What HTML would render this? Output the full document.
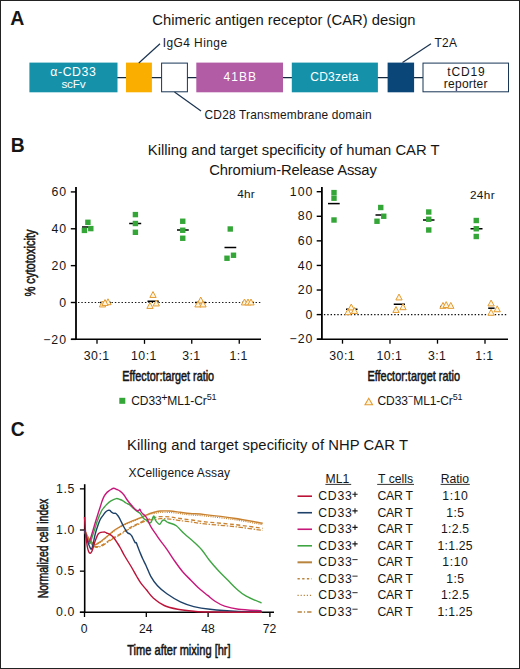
<!DOCTYPE html>
<html><head><meta charset="utf-8"><style>
html,body{margin:0;padding:0;background:#fff;}
body{width:520px;height:669px;overflow:hidden;}
svg{display:block;}
text{font-family:"Liberation Sans", sans-serif;}
</style></head><body>
<svg width="520" height="669" viewBox="0 0 520 669" font-family='"Liberation Sans", sans-serif'>
<rect x="0" y="0" width="520" height="669" fill="#fff"/>
<text x="10.31" y="24.60" font-size="19.5" font-weight="bold" fill="#161616">A</text>
<text transform="translate(152.26,24.90) scale(1,1.05)" font-size="14.8" letter-spacing="0.033" fill="#161616">Chimeric antigen receptor (CAR) design</text>
<line x1="117" y1="77.6" x2="423" y2="77.6" stroke="#14283e" stroke-width="1.4"/>
<rect x="29.4" y="62.6" width="88.1" height="29.7" fill="#1592aa"/>
<rect x="126" y="62.6" width="25.9" height="29.7" fill="#f9ae00"/>
<rect x="161.6" y="63.1" width="25.8" height="28.7" fill="#fff" stroke="#183656" stroke-width="1"/>
<rect x="196.3" y="62.6" width="86.7" height="29.7" fill="#b15ca5"/>
<rect x="291.8" y="62.6" width="86.1" height="29.7" fill="#1592aa"/>
<rect x="387.6" y="62.6" width="26.5" height="29.7" fill="#0a4677"/>
<rect x="423" y="63.1" width="85.5" height="28.7" fill="#fff" stroke="#183656" stroke-width="1"/>
<text x="50.31" y="76.20" font-size="12.3" letter-spacing="0.573" fill="#fff">&#945;-CD33</text>
<text x="61.41" y="87.60" font-size="11.8" letter-spacing="-0.201" fill="#fff">scFv</text>
<text x="223.46" y="80.60" font-size="12.0" letter-spacing="1.067" fill="#fff">41BB</text>
<text x="310.20" y="81.10" font-size="12.0" letter-spacing="0.277" fill="#fff">CD3zeta</text>
<text x="447.32" y="76.00" font-size="12.0" letter-spacing="0.850" fill="#161616">tCD19</text>
<text x="443.82" y="88.10" font-size="12.0" letter-spacing="0.243" fill="#161616">reporter</text>
<line x1="138.8" y1="63" x2="160" y2="43.7" stroke="#1a3350" stroke-width="1.2"/>
<line x1="174.5" y1="92" x2="201" y2="111" stroke="#1a3350" stroke-width="1.2"/>
<line x1="402.5" y1="62.5" x2="431" y2="43.7" stroke="#1a3350" stroke-width="1.2"/>
<text x="162.73" y="47.00" font-size="11.9" letter-spacing="0.459" fill="#161616">IgG4 Hinge</text>
<text x="204.60" y="118.80" font-size="11.9" letter-spacing="0.189" fill="#161616">CD28 Transmembrane domain</text>
<text x="434.56" y="46.80" font-size="11.9" letter-spacing="0.280" fill="#161616">T2A</text>
<text x="10.75" y="151.90" font-size="19.3" font-weight="bold" fill="#161616">B</text>
<text transform="translate(147.82,155.30) scale(1,1.05)" font-size="14.8" letter-spacing="-0.014" fill="#161616">Killing and target specificity of human CAR T</text>
<text transform="translate(209.26,175.30) scale(1,1.05)" font-size="14.8" letter-spacing="-0.159" fill="#161616">Chromium-Release Assay</text>
<line x1="76.0" y1="187.12" x2="76.0" y2="340.06" stroke="#000" stroke-width="1.8"/>
<line x1="71.2" y1="339.36" x2="261" y2="339.36" stroke="#000" stroke-width="1.5"/>
<line x1="70.8" y1="191.92000000000002" x2="76.0" y2="191.92000000000002" stroke="#000" stroke-width="1.4"/>
<text x="51.38" y="196.12" font-size="12.3" letter-spacing="1.000" fill="#161616">60</text>
<line x1="70.8" y1="228.78" x2="76.0" y2="228.78" stroke="#000" stroke-width="1.4"/>
<text x="51.38" y="232.98" font-size="12.3" letter-spacing="1.000" fill="#161616">40</text>
<line x1="70.8" y1="265.64" x2="76.0" y2="265.64" stroke="#000" stroke-width="1.4"/>
<text x="51.38" y="269.84" font-size="12.3" letter-spacing="1.000" fill="#161616">20</text>
<line x1="70.8" y1="302.5" x2="76.0" y2="302.5" stroke="#000" stroke-width="1.4"/>
<text x="59.20" y="306.70" font-size="12.3" fill="#161616">0</text>
<line x1="70.8" y1="339.36" x2="76.0" y2="339.36" stroke="#000" stroke-width="1.4"/>
<text x="43.18" y="343.56" font-size="12.3" letter-spacing="1.000" fill="#161616">&#8722;20</text>
<line x1="97" y1="339.36" x2="97" y2="343.86" stroke="#000" stroke-width="1.3"/>
<text x="83.82" y="360.36" font-size="12.3" letter-spacing="0.450" fill="#161616">30:1</text>
<line x1="144.5" y1="339.36" x2="144.5" y2="343.86" stroke="#000" stroke-width="1.3"/>
<text x="131.08" y="360.36" font-size="12.3" letter-spacing="0.450" fill="#161616">10:1</text>
<line x1="191.75" y1="339.36" x2="191.75" y2="343.86" stroke="#000" stroke-width="1.3"/>
<text x="182.21" y="360.36" font-size="12.3" letter-spacing="0.450" fill="#161616">3:1</text>
<line x1="239.25" y1="339.36" x2="239.25" y2="343.86" stroke="#000" stroke-width="1.3"/>
<text x="229.47" y="360.36" font-size="12.3" letter-spacing="0.450" fill="#161616">1:1</text>
<line x1="78.0" y1="302.5" x2="261" y2="302.5" stroke="#111" stroke-width="1.1" stroke-dasharray="1.4 1.95"/>
<line x1="321.9" y1="186.9" x2="321.9" y2="339.88" stroke="#000" stroke-width="1.8"/>
<line x1="317.09999999999997" y1="339.18" x2="508" y2="339.18" stroke="#000" stroke-width="1.5"/>
<line x1="316.7" y1="191.70000000000002" x2="321.9" y2="191.70000000000002" stroke="#000" stroke-width="1.4"/>
<text x="289.85" y="195.90" font-size="12.3" letter-spacing="1.000" fill="#161616">100</text>
<line x1="316.7" y1="216.28000000000003" x2="321.9" y2="216.28000000000003" stroke="#000" stroke-width="1.4"/>
<text x="297.68" y="220.48" font-size="12.3" letter-spacing="1.000" fill="#161616">80</text>
<line x1="316.7" y1="240.86" x2="321.9" y2="240.86" stroke="#000" stroke-width="1.4"/>
<text x="297.68" y="245.06" font-size="12.3" letter-spacing="1.000" fill="#161616">60</text>
<line x1="316.7" y1="265.44" x2="321.9" y2="265.44" stroke="#000" stroke-width="1.4"/>
<text x="297.68" y="269.64" font-size="12.3" letter-spacing="1.000" fill="#161616">40</text>
<line x1="316.7" y1="290.02000000000004" x2="321.9" y2="290.02000000000004" stroke="#000" stroke-width="1.4"/>
<text x="297.68" y="294.22" font-size="12.3" letter-spacing="1.000" fill="#161616">20</text>
<line x1="316.7" y1="314.6" x2="321.9" y2="314.6" stroke="#000" stroke-width="1.4"/>
<text x="305.50" y="318.80" font-size="12.3" fill="#161616">0</text>
<line x1="316.7" y1="339.18" x2="321.9" y2="339.18" stroke="#000" stroke-width="1.4"/>
<text x="289.48" y="343.38" font-size="12.3" letter-spacing="1.000" fill="#161616">&#8722;20</text>
<line x1="342.5" y1="339.18" x2="342.5" y2="343.68" stroke="#000" stroke-width="1.3"/>
<text x="329.32" y="360.18" font-size="12.3" letter-spacing="0.450" fill="#161616">30:1</text>
<line x1="390" y1="339.18" x2="390" y2="343.68" stroke="#000" stroke-width="1.3"/>
<text x="376.58" y="360.18" font-size="12.3" letter-spacing="0.450" fill="#161616">10:1</text>
<line x1="437.5" y1="339.18" x2="437.5" y2="343.68" stroke="#000" stroke-width="1.3"/>
<text x="427.96" y="360.18" font-size="12.3" letter-spacing="0.450" fill="#161616">3:1</text>
<line x1="485" y1="339.18" x2="485" y2="343.68" stroke="#000" stroke-width="1.3"/>
<text x="475.22" y="360.18" font-size="12.3" letter-spacing="0.450" fill="#161616">1:1</text>
<line x1="323.9" y1="314.6" x2="508" y2="314.6" stroke="#111" stroke-width="1.1" stroke-dasharray="1.4 1.95"/>
<text x="237.26" y="198.30" font-size="11.8" letter-spacing="0.181" fill="#161616">4hr</text>
<text x="469.91" y="198.60" font-size="11.8" letter-spacing="0.369" fill="#161616">24hr</text>
<line x1="82" y1="227" x2="93" y2="227" stroke="#000" stroke-width="1.5"/>
<line x1="129.2" y1="223.5" x2="141.2" y2="223.5" stroke="#000" stroke-width="1.5"/>
<line x1="177" y1="230" x2="188.75" y2="230" stroke="#000" stroke-width="1.5"/>
<line x1="224.5" y1="247.5" x2="236.25" y2="247.5" stroke="#000" stroke-width="1.5"/>
<line x1="100" y1="302.5" x2="111" y2="302.5" stroke="#000" stroke-width="1.5"/>
<line x1="147.5" y1="301.25" x2="158.75" y2="301.25" stroke="#000" stroke-width="1.5"/>
<line x1="195" y1="302.5" x2="206" y2="302.5" stroke="#000" stroke-width="1.5"/>
<line x1="242" y1="302.5" x2="254" y2="302.5" stroke="#000" stroke-width="1.5"/>
<line x1="328" y1="203.6" x2="339.7" y2="203.6" stroke="#000" stroke-width="1.5"/>
<line x1="375.5" y1="215" x2="386" y2="215" stroke="#000" stroke-width="1.5"/>
<line x1="423" y1="220" x2="434.5" y2="220" stroke="#000" stroke-width="1.5"/>
<line x1="470.5" y1="228.75" x2="482.5" y2="228.75" stroke="#000" stroke-width="1.5"/>
<line x1="346" y1="309.25" x2="357.5" y2="309.25" stroke="#000" stroke-width="1.5"/>
<line x1="393.75" y1="304.25" x2="405" y2="304.25" stroke="#000" stroke-width="1.5"/>
<line x1="440" y1="306.6" x2="453" y2="306.6" stroke="#000" stroke-width="1.5"/>
<line x1="488.2" y1="308.2" x2="494.6" y2="308.2" stroke="#000" stroke-width="1.5"/>
<rect x="81.70" y="227.70" width="5.4" height="5.4" fill="#33a637"/>
<rect x="85.20" y="219.60" width="5.4" height="5.4" fill="#33a637"/>
<rect x="88.10" y="225.90" width="5.4" height="5.4" fill="#33a637"/>
<rect x="132.70" y="211.90" width="5.4" height="5.4" fill="#33a637"/>
<rect x="132.70" y="220.80" width="5.4" height="5.4" fill="#33a637"/>
<rect x="132.70" y="229.60" width="5.4" height="5.4" fill="#33a637"/>
<rect x="180.05" y="218.55" width="5.4" height="5.4" fill="#33a637"/>
<rect x="180.05" y="227.55" width="5.4" height="5.4" fill="#33a637"/>
<rect x="180.05" y="235.55" width="5.4" height="5.4" fill="#33a637"/>
<rect x="227.55" y="226.30" width="5.4" height="5.4" fill="#33a637"/>
<rect x="224.30" y="255.55" width="5.4" height="5.4" fill="#33a637"/>
<rect x="230.80" y="252.55" width="5.4" height="5.4" fill="#33a637"/>
<path d="M102.50,301.05 L105.65,306.95 L99.35,306.95 Z" fill="#fff6df" stroke="#e49b30" stroke-width="1" stroke-linejoin="miter"/>
<path d="M108.00,298.80 L111.15,304.70 L104.85,304.70 Z" fill="#fff6df" stroke="#e49b30" stroke-width="1" stroke-linejoin="miter"/>
<path d="M105.00,299.55 L108.15,305.45 L101.85,305.45 Z" fill="#fff6df" stroke="#e49b30" stroke-width="1" stroke-linejoin="miter"/>
<path d="M153.00,291.55 L156.15,297.45 L149.85,297.45 Z" fill="#fff6df" stroke="#e49b30" stroke-width="1" stroke-linejoin="miter"/>
<path d="M150.00,302.55 L153.15,308.45 L146.85,308.45 Z" fill="#fff6df" stroke="#e49b30" stroke-width="1" stroke-linejoin="miter"/>
<path d="M156.25,300.05 L159.40,305.95 L153.10,305.95 Z" fill="#fff6df" stroke="#e49b30" stroke-width="1" stroke-linejoin="miter"/>
<path d="M200.75,297.05 L203.90,302.95 L197.60,302.95 Z" fill="#fff6df" stroke="#e49b30" stroke-width="1" stroke-linejoin="miter"/>
<path d="M198.00,301.05 L201.15,306.95 L194.85,306.95 Z" fill="#fff6df" stroke="#e49b30" stroke-width="1" stroke-linejoin="miter"/>
<path d="M203.00,301.05 L206.15,306.95 L199.85,306.95 Z" fill="#fff6df" stroke="#e49b30" stroke-width="1" stroke-linejoin="miter"/>
<path d="M244.50,299.05 L247.65,304.95 L241.35,304.95 Z" fill="#fff6df" stroke="#e49b30" stroke-width="1" stroke-linejoin="miter"/>
<path d="M248.00,299.05 L251.15,304.95 L244.85,304.95 Z" fill="#fff6df" stroke="#e49b30" stroke-width="1" stroke-linejoin="miter"/>
<path d="M251.00,299.05 L254.15,304.95 L247.85,304.95 Z" fill="#fff6df" stroke="#e49b30" stroke-width="1" stroke-linejoin="miter"/>
<rect x="331.30" y="189.90" width="5.4" height="5.4" fill="#33a637"/>
<rect x="331.30" y="195.50" width="5.4" height="5.4" fill="#33a637"/>
<rect x="331.30" y="217.30" width="5.4" height="5.4" fill="#33a637"/>
<rect x="378.05" y="204.80" width="5.4" height="5.4" fill="#33a637"/>
<rect x="381.05" y="213.55" width="5.4" height="5.4" fill="#33a637"/>
<rect x="374.30" y="218.55" width="5.4" height="5.4" fill="#33a637"/>
<rect x="426.05" y="209.30" width="5.4" height="5.4" fill="#33a637"/>
<rect x="426.05" y="216.55" width="5.4" height="5.4" fill="#33a637"/>
<rect x="426.05" y="227.30" width="5.4" height="5.4" fill="#33a637"/>
<rect x="473.55" y="217.80" width="5.4" height="5.4" fill="#33a637"/>
<rect x="473.55" y="226.05" width="5.4" height="5.4" fill="#33a637"/>
<rect x="473.55" y="233.80" width="5.4" height="5.4" fill="#33a637"/>
<path d="M348.00,308.80 L351.15,314.70 L344.85,314.70 Z" fill="#fff6df" stroke="#e49b30" stroke-width="1" stroke-linejoin="miter"/>
<path d="M351.25,304.05 L354.40,309.95 L348.10,309.95 Z" fill="#fff6df" stroke="#e49b30" stroke-width="1" stroke-linejoin="miter"/>
<path d="M354.50,307.55 L357.65,313.45 L351.35,313.45 Z" fill="#fff6df" stroke="#e49b30" stroke-width="1" stroke-linejoin="miter"/>
<path d="M396.00,306.55 L399.15,312.45 L392.85,312.45 Z" fill="#fff6df" stroke="#e49b30" stroke-width="1" stroke-linejoin="miter"/>
<path d="M399.00,294.05 L402.15,299.95 L395.85,299.95 Z" fill="#fff6df" stroke="#e49b30" stroke-width="1" stroke-linejoin="miter"/>
<path d="M403.00,303.80 L406.15,309.70 L399.85,309.70 Z" fill="#fff6df" stroke="#e49b30" stroke-width="1" stroke-linejoin="miter"/>
<path d="M443.00,302.45 L446.15,308.35 L439.85,308.35 Z" fill="#fff6df" stroke="#e49b30" stroke-width="1" stroke-linejoin="miter"/>
<path d="M446.20,301.65 L449.35,307.55 L443.05,307.55 Z" fill="#fff6df" stroke="#e49b30" stroke-width="1" stroke-linejoin="miter"/>
<path d="M450.80,302.45 L453.95,308.35 L447.65,308.35 Z" fill="#fff6df" stroke="#e49b30" stroke-width="1" stroke-linejoin="miter"/>
<path d="M491.10,300.05 L494.25,305.95 L487.95,305.95 Z" fill="#fff6df" stroke="#e49b30" stroke-width="1" stroke-linejoin="miter"/>
<path d="M491.10,309.35 L494.25,315.25 L487.95,315.25 Z" fill="#fff6df" stroke="#e49b30" stroke-width="1" stroke-linejoin="miter"/>
<path d="M497.20,305.85 L500.35,311.75 L494.05,311.75 Z" fill="#fff6df" stroke="#e49b30" stroke-width="1" stroke-linejoin="miter"/>
<text transform="translate(122.33,381.10) scale(0.7570,1)" font-size="14.3" fill="#161616" stroke="#161616" stroke-width="0.55">Effector:target ratio</text>
<text transform="translate(367.43,381.30) scale(0.7633,1)" font-size="14.3" fill="#161616" stroke="#161616" stroke-width="0.55">Effector:target ratio</text>
<text transform="translate(34.60,296.59) rotate(-90) scale(0.7771,1)" font-size="14.3" fill="#161616" stroke="#161616" stroke-width="0.55">% cytotoxicity</text>
<rect x="119.30" y="397.80" width="6" height="6" fill="#33a637"/>
<text x="131.3" y="405" font-size="12" fill="#161616" letter-spacing="-0.1">CD33<tspan font-size="11" dx="-0.3" dy="-4.4">+</tspan><tspan dx="-0.3" dy="4.4">ML1-Cr</tspan><tspan font-size="9" dy="-5.2">51</tspan></text>
<path d="M368.75,398.30 L372.50,404.70 L365.00,404.70 Z" fill="#fff6df" stroke="#e49b30" stroke-width="1.1" stroke-linejoin="miter"/>
<text x="377.5" y="405" font-size="12" fill="#161616" letter-spacing="-0.1">CD33<tspan font-size="9.5" dy="-4.6">&#8722;</tspan><tspan dy="4.6">ML1-Cr</tspan><tspan font-size="9" dy="-5.2">51</tspan></text>
<text x="10.73" y="435.70" font-size="19.3" font-weight="bold" fill="#161616">C</text>
<text transform="translate(127.07,449.60) scale(1,1.05)" font-size="14.8" letter-spacing="0.069" fill="#161616">Killing and target specificity of NHP CAR T</text>
<text x="128.51" y="476.80" font-size="12.0" letter-spacing="0.129" fill="#161616">XCelligence Assay</text>
<line x1="84.7" y1="484.2" x2="84.7" y2="613" stroke="#000" stroke-width="1.6"/>
<line x1="79.9" y1="612.3" x2="274" y2="612.3" stroke="#000" stroke-width="1.5"/>
<line x1="79.9" y1="488.84999999999997" x2="84.7" y2="488.84999999999997" stroke="#000" stroke-width="1.3"/>
<text x="56.10" y="492.75" font-size="12.3" letter-spacing="0.600" fill="#161616">1.5</text>
<line x1="79.9" y1="530.0" x2="84.7" y2="530.0" stroke="#000" stroke-width="1.3"/>
<text x="56.03" y="533.90" font-size="12.3" letter-spacing="0.600" fill="#161616">1.0</text>
<line x1="79.9" y1="571.15" x2="84.7" y2="571.15" stroke="#000" stroke-width="1.3"/>
<text x="56.10" y="575.05" font-size="12.3" letter-spacing="0.600" fill="#161616">0.5</text>
<line x1="79.9" y1="612.3" x2="84.7" y2="612.3" stroke="#000" stroke-width="1.3"/>
<text x="56.03" y="616.20" font-size="12.3" letter-spacing="0.600" fill="#161616">0.0</text>
<line x1="84.5" y1="612.3" x2="84.5" y2="617" stroke="#000" stroke-width="1.3"/>
<text x="80.81" y="633.00" font-size="12.2" fill="#161616">0</text>
<line x1="146.3" y1="612.3" x2="146.3" y2="617" stroke="#000" stroke-width="1.3"/>
<text x="139.08" y="633.00" font-size="12.2" fill="#161616">24</text>
<line x1="208.10000000000002" y1="612.3" x2="208.10000000000002" y2="617" stroke="#000" stroke-width="1.3"/>
<text x="201.15" y="633.00" font-size="12.2" fill="#161616">48</text>
<line x1="269.9" y1="612.3" x2="269.9" y2="617" stroke="#000" stroke-width="1.3"/>
<text x="262.80" y="633.00" font-size="12.2" fill="#161616">72</text>
<text transform="translate(127.28,654.50) scale(0.7736,1)" font-size="14.3" fill="#161616" stroke="#161616" stroke-width="0.55">Time after mixing [hr]</text>
<text transform="translate(48.30,598.34) rotate(-90) scale(0.7335,1)" font-size="14.3" fill="#161616" stroke="#161616" stroke-width="0.55">Normalized cell index</text>
<path d="M84.50,530.00 C85.08,531.33 86.75,535.67 88.00,538.00 C89.25,540.33 90.63,542.57 92.00,544.00 C93.37,545.43 94.95,546.27 96.20,546.60 C97.45,546.93 98.38,546.33 99.50,546.00 C100.62,545.67 101.67,545.27 102.90,544.60 C104.13,543.93 105.55,542.90 106.90,542.00 C108.25,541.10 109.57,540.12 111.00,539.20 C112.43,538.28 113.93,537.40 115.50,536.50 C117.07,535.60 118.73,534.80 120.40,533.80 C122.07,532.80 123.72,531.62 125.50,530.50 C127.28,529.38 129.52,528.02 131.10,527.10 C132.68,526.18 133.65,525.67 135.00,525.00 C136.35,524.33 137.53,523.90 139.20,523.10 C140.87,522.30 143.20,520.88 145.00,520.20 C146.80,519.52 148.33,519.45 150.00,519.00 C151.67,518.55 153.30,517.90 155.00,517.50 C156.70,517.10 157.70,516.68 160.20,516.60 C162.70,516.52 166.70,516.68 170.00,517.00 C173.30,517.32 176.33,518.00 180.00,518.50 C183.67,519.00 187.83,519.45 192.00,520.00 C196.17,520.55 198.02,521.05 205.00,521.80 C211.98,522.55 224.28,523.42 233.90,524.50 C243.52,525.58 257.90,527.67 262.70,528.30" fill="none" stroke="#c98230" stroke-width="1.3" stroke-dasharray="4 2.5"/>
<path d="M84.50,530.80 C85.08,532.13 86.75,536.47 88.00,538.80 C89.25,541.13 90.63,543.37 92.00,544.80 C93.37,546.23 94.95,547.07 96.20,547.40 C97.45,547.73 98.38,547.13 99.50,546.80 C100.62,546.47 101.67,546.07 102.90,545.40 C104.13,544.73 105.55,543.70 106.90,542.80 C108.25,541.90 109.57,540.92 111.00,540.00 C112.43,539.08 113.93,538.20 115.50,537.30 C117.07,536.40 118.73,535.60 120.40,534.60 C122.07,533.60 123.72,532.42 125.50,531.30 C127.28,530.18 129.52,528.82 131.10,527.90 C132.68,526.98 133.65,526.47 135.00,525.80 C136.35,525.13 137.53,524.70 139.20,523.90 C140.87,523.10 143.20,521.68 145.00,521.00 C146.80,520.32 148.33,520.03 150.00,519.80 C151.67,519.57 153.30,519.78 155.00,519.60 C156.70,519.42 157.70,518.78 160.20,518.70 C162.70,518.62 166.70,518.78 170.00,519.10 C173.30,519.42 176.33,520.10 180.00,520.60 C183.67,521.10 187.83,521.55 192.00,522.10 C196.17,522.65 198.02,523.15 205.00,523.90 C211.98,524.65 224.28,525.52 233.90,526.60 C243.52,527.68 257.90,529.77 262.70,530.40" fill="none" stroke="#c98230" stroke-width="1.2" stroke-dasharray="4.5 1.5 1.5 1.5"/>
<path d="M84.50,530.60 C85.08,531.77 86.92,535.68 88.00,537.60 C89.08,539.52 89.87,540.83 91.00,542.10 C92.13,543.37 93.72,544.87 94.80,545.20 C95.88,545.53 96.60,544.55 97.50,544.10 C98.40,543.65 99.20,543.20 100.20,542.50 C101.20,541.80 102.38,540.80 103.50,539.90 C104.62,539.00 105.65,538.15 106.90,537.10 C108.15,536.05 109.65,534.72 111.00,533.60 C112.35,532.48 113.58,531.40 115.00,530.40 C116.42,529.40 117.93,528.50 119.50,527.60 C121.07,526.70 122.82,525.78 124.40,525.00 C125.98,524.22 127.43,523.57 129.00,522.90 C130.57,522.23 131.97,521.73 133.80,521.00 C135.63,520.27 137.97,519.37 140.00,518.50 C142.03,517.63 144.33,516.53 146.00,515.80 C147.67,515.07 148.50,514.50 150.00,514.10 C151.50,513.70 153.30,513.68 155.00,513.40 C156.70,513.12 157.70,512.57 160.20,512.40 C162.70,512.23 166.63,512.18 170.00,512.40 C173.37,512.62 177.07,513.28 180.40,513.70 C183.73,514.12 185.90,514.52 190.00,514.90 C194.10,515.28 197.68,515.22 205.00,516.00 C212.32,516.78 224.28,518.15 233.90,519.60 C243.52,521.05 257.90,523.85 262.70,524.70" fill="none" stroke="#c98230" stroke-width="1.2" stroke-dasharray="1 1.2"/>
<path d="M84.50,530.00 C85.08,531.17 86.92,535.08 88.00,537.00 C89.08,538.92 89.87,540.23 91.00,541.50 C92.13,542.77 93.72,544.27 94.80,544.60 C95.88,544.93 96.60,543.95 97.50,543.50 C98.40,543.05 99.20,542.60 100.20,541.90 C101.20,541.20 102.38,540.20 103.50,539.30 C104.62,538.40 105.65,537.55 106.90,536.50 C108.15,535.45 109.65,534.12 111.00,533.00 C112.35,531.88 113.58,530.80 115.00,529.80 C116.42,528.80 117.93,527.90 119.50,527.00 C121.07,526.10 122.82,525.18 124.40,524.40 C125.98,523.62 127.43,522.97 129.00,522.30 C130.57,521.63 131.97,521.13 133.80,520.40 C135.63,519.67 137.97,518.77 140.00,517.90 C142.03,517.03 144.33,515.93 146.00,515.20 C147.67,514.47 148.50,514.03 150.00,513.50 C151.50,512.97 153.30,512.42 155.00,512.00 C156.70,511.58 157.70,511.17 160.20,511.00 C162.70,510.83 166.63,510.78 170.00,511.00 C173.37,511.22 177.07,511.88 180.40,512.30 C183.73,512.72 185.90,513.12 190.00,513.50 C194.10,513.88 197.68,513.82 205.00,514.60 C212.32,515.38 224.28,516.75 233.90,518.20 C243.52,519.65 257.90,522.45 262.70,523.30" fill="none" stroke="#c98230" stroke-width="1.4"/>
<path d="M84.50,530.00 C84.83,531.17 85.83,535.00 86.50,537.00 C87.17,539.00 87.88,541.00 88.50,542.00 C89.12,543.00 89.62,543.75 90.20,543.00 C90.78,542.25 91.23,539.83 92.00,537.50 C92.77,535.17 93.88,531.85 94.80,529.00 C95.72,526.15 96.38,523.40 97.50,520.40 C98.62,517.40 100.38,513.18 101.50,511.00 C102.62,508.82 103.30,508.43 104.20,507.30 C105.10,506.17 105.77,505.27 106.90,504.20 C108.03,503.13 109.43,501.83 111.00,500.90 C112.57,499.97 114.80,498.83 116.30,498.60 C117.80,498.37 118.88,499.12 120.00,499.50 C121.12,499.88 122.00,500.32 123.00,500.90 C124.00,501.48 124.87,502.33 126.00,503.00 C127.13,503.67 128.63,504.07 129.80,504.90 C130.97,505.73 131.88,506.98 133.00,508.00 C134.12,509.02 135.33,510.12 136.50,511.00 C137.67,511.88 138.78,512.05 140.00,513.30 C141.22,514.55 142.80,517.38 143.80,518.50 C144.80,519.62 145.03,519.25 146.00,520.00 C146.97,520.75 148.72,522.68 149.60,523.00 C150.48,523.32 150.63,523.05 151.30,521.90 C151.97,520.75 152.92,516.38 153.60,516.10 C154.28,515.82 154.72,519.05 155.40,520.20 C156.08,521.35 156.93,522.33 157.70,523.00 C158.47,523.67 159.28,524.53 160.00,524.20 C160.72,523.87 161.30,521.70 162.00,521.00 C162.70,520.30 163.37,519.83 164.20,520.00 C165.03,520.17 166.10,521.50 167.00,522.00 C167.90,522.50 168.05,522.37 169.60,523.00 C171.15,523.63 173.83,524.00 176.30,525.80 C178.77,527.60 181.48,531.12 184.40,533.80 C187.32,536.48 190.88,539.20 193.80,541.90 C196.72,544.60 199.33,546.98 201.90,550.00 C204.47,553.02 206.43,556.53 209.20,560.00 C211.97,563.47 215.42,567.47 218.50,570.80 C221.58,574.13 224.63,576.93 227.70,580.00 C230.77,583.07 233.82,586.50 236.90,589.20 C239.98,591.90 242.10,593.90 246.20,596.20 C250.30,598.50 258.95,601.87 261.50,603.00" fill="none" stroke="#3fa543" stroke-width="1.4"/>
<path d="M84.50,530.00 C84.83,531.25 85.78,535.50 86.50,537.50 C87.22,539.50 88.13,541.83 88.80,542.00 C89.47,542.17 89.88,540.17 90.50,538.50 C91.12,536.83 91.75,534.50 92.50,532.00 C93.25,529.50 94.17,526.25 95.00,523.50 C95.83,520.75 96.63,518.25 97.50,515.50 C98.37,512.75 99.42,509.45 100.20,507.00 C100.98,504.55 101.53,502.60 102.20,500.80 C102.87,499.00 103.52,497.47 104.20,496.20 C104.88,494.93 105.62,494.00 106.30,493.20 C106.98,492.40 107.52,492.02 108.30,491.40 C109.08,490.78 110.12,490.02 111.00,489.50 C111.88,488.98 112.60,488.30 113.60,488.30 C114.60,488.30 115.87,488.98 117.00,489.50 C118.13,490.02 119.23,490.48 120.40,491.40 C121.57,492.32 122.98,493.73 124.00,495.00 C125.02,496.27 125.50,497.58 126.50,499.00 C127.50,500.42 128.65,501.88 130.00,503.50 C131.35,505.12 133.25,507.45 134.60,508.70 C135.95,509.95 137.23,510.92 138.10,511.00 C138.97,511.08 139.33,509.12 139.80,509.20 C140.27,509.28 140.42,510.73 140.90,511.50 C141.38,512.27 142.02,513.12 142.70,513.80 C143.38,514.48 144.23,514.73 145.00,515.60 C145.77,516.47 146.53,517.57 147.30,519.00 C148.07,520.43 148.83,522.65 149.60,524.20 C150.37,525.75 150.93,526.77 151.90,528.30 C152.87,529.83 154.02,531.38 155.40,533.40 C156.78,535.42 158.28,537.73 160.20,540.40 C162.12,543.07 164.43,545.88 166.90,549.40 C169.37,552.92 172.30,557.68 175.00,561.50 C177.70,565.32 180.42,569.15 183.10,572.30 C185.78,575.45 188.42,577.70 191.10,580.40 C193.78,583.10 196.43,586.00 199.20,588.50 C201.97,591.00 205.00,593.23 207.70,595.40 C210.40,597.57 212.58,599.70 215.40,601.50 C218.22,603.30 220.75,604.92 224.60,606.20 C228.45,607.48 232.35,608.43 238.50,609.20 C244.65,609.97 257.67,610.53 261.50,610.80" fill="none" stroke="#c8177a" stroke-width="1.4"/>
<path d="M84.50,530.00 C84.83,531.33 85.83,535.67 86.50,538.00 C87.17,540.33 87.83,542.25 88.50,544.00 C89.17,545.75 89.93,547.75 90.50,548.50 C91.07,549.25 91.40,549.58 91.90,548.50 C92.40,547.42 92.90,544.58 93.50,542.00 C94.10,539.42 94.68,536.02 95.50,533.00 C96.32,529.98 97.57,526.23 98.40,523.90 C99.23,521.57 99.67,520.50 100.50,519.00 C101.33,517.50 102.55,516.07 103.40,514.90 C104.25,513.73 104.82,512.75 105.60,512.00 C106.38,511.25 107.40,510.67 108.10,510.40 C108.80,510.13 109.23,510.12 109.80,510.40 C110.37,510.68 110.83,511.62 111.50,512.10 C112.17,512.58 113.12,513.10 113.80,513.30 C114.48,513.50 115.02,513.02 115.60,513.30 C116.18,513.58 116.73,514.33 117.30,515.00 C117.87,515.67 118.33,516.15 119.00,517.30 C119.67,518.45 120.53,520.37 121.30,521.90 C122.07,523.43 122.82,525.05 123.60,526.50 C124.38,527.95 125.32,529.53 126.00,530.60 C126.68,531.67 127.03,532.33 127.70,532.90 C128.37,533.47 129.33,533.52 130.00,534.00 C130.67,534.48 131.13,534.93 131.70,535.80 C132.27,536.67 132.82,538.05 133.40,539.20 C133.98,540.35 134.72,542.12 135.20,542.70 C135.68,543.28 135.92,542.13 136.30,542.70 C136.68,543.27 136.92,544.57 137.50,546.10 C138.08,547.63 138.93,549.78 139.80,551.90 C140.67,554.02 141.67,556.53 142.70,558.80 C143.73,561.07 144.65,562.58 146.00,565.50 C147.35,568.42 148.88,572.92 150.80,576.30 C152.72,579.68 154.82,582.88 157.50,585.80 C160.18,588.72 163.08,591.12 166.90,593.80 C170.72,596.48 175.92,599.77 180.40,601.90 C184.88,604.03 188.87,605.37 193.80,606.60 C198.73,607.83 202.55,608.48 210.00,609.30 C217.45,610.12 229.83,611.05 238.50,611.50 C247.17,611.95 258.08,611.92 262.00,612.00" fill="none" stroke="#1d4169" stroke-width="1.4"/>
<path d="M84.50,517.00 C84.70,519.83 85.25,529.17 85.70,534.00 C86.15,538.83 86.72,543.08 87.20,546.00 C87.68,548.92 88.10,550.28 88.60,551.50 C89.10,552.72 89.67,553.30 90.20,553.30 C90.73,553.30 91.33,552.38 91.80,551.50 C92.27,550.62 92.58,549.32 93.00,548.00 C93.42,546.68 93.75,545.27 94.30,543.60 C94.85,541.93 95.62,539.63 96.30,538.00 C96.98,536.37 97.62,534.75 98.40,533.80 C99.18,532.85 100.17,532.58 101.00,532.30 C101.83,532.02 102.73,532.13 103.40,532.10 C104.07,532.07 104.47,531.95 105.00,532.10 C105.53,532.25 105.72,532.58 106.60,533.00 C107.48,533.42 109.13,533.85 110.30,534.60 C111.47,535.35 112.37,536.02 113.60,537.50 C114.83,538.98 116.57,541.75 117.70,543.50 C118.83,545.25 119.28,546.00 120.40,548.00 C121.52,550.00 122.62,552.42 124.40,555.50 C126.18,558.58 129.08,563.08 131.10,566.50 C133.12,569.92 134.90,573.28 136.50,576.00 C138.10,578.72 139.05,580.50 140.70,582.80 C142.35,585.10 144.27,587.22 146.40,589.80 C148.53,592.38 150.53,595.68 153.50,598.30 C156.47,600.92 160.17,603.67 164.20,605.50 C168.23,607.33 172.77,608.33 177.70,609.30 C182.63,610.27 188.42,610.85 193.80,611.30 C199.18,611.75 198.63,611.83 210.00,612.00 C221.37,612.17 253.33,612.25 262.00,612.30" fill="none" stroke="#bb1238" stroke-width="1.4"/>
<text x="325.52" y="482.70" font-size="12.2" letter-spacing="0.048" fill="#161616">ML1</text><line x1="325.4" y1="484.4" x2="351.2" y2="484.4" stroke="#333" stroke-width="1"/>
<text x="377.96" y="482.70" font-size="12.2" letter-spacing="0.043" fill="#161616">T cells</text><line x1="377.2" y1="484.4" x2="414" y2="484.4" stroke="#333" stroke-width="1"/>
<text x="440.82" y="482.70" font-size="12.2" letter-spacing="-0.056" fill="#161616">Ratio</text><line x1="440.6" y1="484.4" x2="469.8" y2="484.4" stroke="#333" stroke-width="1"/>
<line x1="297.5" y1="496.20" x2="312" y2="496.20" stroke="#bb1238" stroke-width="1.6"/>
<text x="318.29" y="500.10" font-size="12.2" letter-spacing="0.776" fill="#161616">CD33</text>
<path d="M352.4,494.30 H357.6 M355,491.70 V496.90" stroke="#161616" stroke-width="1.1" fill="none"/>
<text x="377.49" y="500.10" font-size="12.2" letter-spacing="-0.226" fill="#161616">CAR T</text>
<text x="442.28" y="500.10" font-size="12.2" letter-spacing="0.604" fill="#161616">1:10</text>
<line x1="297.5" y1="512.73" x2="312" y2="512.73" stroke="#1d4169" stroke-width="1.6"/>
<text x="318.29" y="516.63" font-size="12.2" letter-spacing="0.776" fill="#161616">CD33</text>
<path d="M352.4,510.83 H357.6 M355,508.23 V513.43" stroke="#161616" stroke-width="1.1" fill="none"/>
<text x="377.49" y="516.63" font-size="12.2" letter-spacing="-0.226" fill="#161616">CAR T</text>
<text x="446.19" y="516.63" font-size="12.2" letter-spacing="0.422" fill="#161616">1:5</text>
<line x1="297.5" y1="529.26" x2="312" y2="529.26" stroke="#c8177a" stroke-width="1.6"/>
<text x="318.29" y="533.16" font-size="12.2" letter-spacing="0.776" fill="#161616">CD33</text>
<path d="M352.4,527.36 H357.6 M355,524.76 V529.96" stroke="#161616" stroke-width="1.1" fill="none"/>
<text x="377.49" y="533.16" font-size="12.2" letter-spacing="-0.226" fill="#161616">CAR T</text>
<text x="440.99" y="533.16" font-size="12.2" letter-spacing="0.264" fill="#161616">1:2.5</text>
<line x1="297.5" y1="545.79" x2="312" y2="545.79" stroke="#3fa543" stroke-width="1.6"/>
<text x="318.29" y="549.69" font-size="12.2" letter-spacing="0.776" fill="#161616">CD33</text>
<path d="M352.4,543.89 H357.6 M355,541.29 V546.49" stroke="#161616" stroke-width="1.1" fill="none"/>
<text x="377.49" y="549.69" font-size="12.2" letter-spacing="-0.226" fill="#161616">CAR T</text>
<text x="437.53" y="549.69" font-size="12.2" letter-spacing="0.237" fill="#161616">1:1.25</text>
<line x1="297.5" y1="562.32" x2="312" y2="562.32" stroke="#b8843e" stroke-width="2.0"/>
<text x="318.29" y="566.22" font-size="12.2" letter-spacing="0.776" fill="#161616">CD33</text>
<path d="M352.4,559.62 H357.6" stroke="#161616" stroke-width="0.9" fill="none"/>
<text x="377.49" y="566.22" font-size="12.2" letter-spacing="-0.226" fill="#161616">CAR T</text>
<text x="442.28" y="566.22" font-size="12.2" letter-spacing="0.604" fill="#161616">1:10</text>
<line x1="297.5" y1="578.85" x2="312" y2="578.85" stroke="#b8843e" stroke-width="1.5" stroke-dasharray="2.3 2.4"/>
<text x="318.29" y="582.75" font-size="12.2" letter-spacing="0.776" fill="#161616">CD33</text>
<path d="M352.4,576.15 H357.6" stroke="#161616" stroke-width="0.9" fill="none"/>
<text x="377.49" y="582.75" font-size="12.2" letter-spacing="-0.226" fill="#161616">CAR T</text>
<text x="446.19" y="582.75" font-size="12.2" letter-spacing="0.422" fill="#161616">1:5</text>
<line x1="297.5" y1="595.38" x2="312" y2="595.38" stroke="#b8843e" stroke-width="1.4" stroke-dasharray="1.2 1.9"/>
<text x="318.29" y="599.28" font-size="12.2" letter-spacing="0.776" fill="#161616">CD33</text>
<path d="M352.4,592.68 H357.6" stroke="#161616" stroke-width="0.9" fill="none"/>
<text x="377.49" y="599.28" font-size="12.2" letter-spacing="-0.226" fill="#161616">CAR T</text>
<text x="440.99" y="599.28" font-size="12.2" letter-spacing="0.264" fill="#161616">1:2.5</text>
<line x1="297.5" y1="611.91" x2="312" y2="611.91" stroke="#b8843e" stroke-width="1.5" stroke-dasharray="4.4 2 1.2 2"/>
<text x="318.29" y="615.81" font-size="12.2" letter-spacing="0.776" fill="#161616">CD33</text>
<path d="M352.4,609.21 H357.6" stroke="#161616" stroke-width="0.9" fill="none"/>
<text x="377.49" y="615.81" font-size="12.2" letter-spacing="-0.226" fill="#161616">CAR T</text>
<text x="437.53" y="615.81" font-size="12.2" letter-spacing="0.237" fill="#161616">1:1.25</text>
<rect x="0.5" y="0.5" width="519" height="668" fill="none" stroke="#222" stroke-width="1"/>
</svg>
</body></html>
